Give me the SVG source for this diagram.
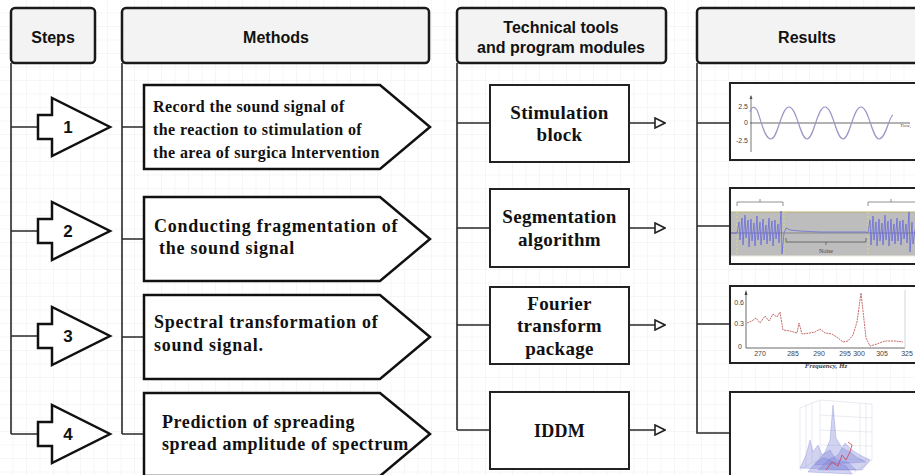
<svg xmlns="http://www.w3.org/2000/svg" width="915" height="475" viewBox="0 0 915 475">
<defs>
<pattern id="grid" width="13.5" height="13.5" patternUnits="userSpaceOnUse">
<path d="M13.5 0 V13.5 M0 13.5 H13.5" fill="none" stroke="#eeeeee" stroke-width="1"/>
</pattern>
<marker id="open" viewBox="0 0 12 12" refX="11" refY="6" markerWidth="12" markerHeight="12" markerUnits="userSpaceOnUse" orient="auto">
<path d="M1 1 L11 6 L1 11 Z" fill="#fff" stroke="#222" stroke-width="1.6"/>
</marker>
<style>
.hdr{fill:#f3f3f3;stroke:#1a1a1a;stroke-width:2.5}
.htxt{font-family:"Liberation Sans",Arial,sans-serif;font-weight:bold;font-size:16px;fill:#111;text-anchor:middle}
.step{fill:#fff;stroke:#111;stroke-width:2.5;stroke-linejoin:miter}
.stxt{font-family:"Liberation Sans",Arial,sans-serif;font-weight:bold;font-size:17px;fill:#111;text-anchor:middle}
.meth{fill:#fff;stroke:#111;stroke-width:2.5}
.mtxt{font-family:"Liberation Serif","Times New Roman",serif;font-weight:bold;font-size:18px;fill:#111;letter-spacing:0.75px}
.box{fill:#fff;stroke:#222;stroke-width:2}
.btxt{font-family:"Liberation Serif","Times New Roman",serif;font-weight:bold;font-size:19px;fill:#111;text-anchor:middle;letter-spacing:0.3px}
.chart{fill:#fff;stroke:#222;stroke-width:2}
.conn{fill:none;stroke:#2a2a2a;stroke-width:1.6}
.ax{font-family:"Liberation Sans",Arial,sans-serif;font-size:7px;fill:#444}
</style>
</defs>
<rect width="915" height="475" fill="#fff"/>
<rect width="915" height="475" fill="url(#grid)"/>

<g id="connectors">
<path class="conn" d="M11 63 V434 M11 127 H38 M11 231 H38 M11 336 H38 M11 434 H38"/>
<path class="conn" d="M122 63 V434 M122 127 H144 M122 239 H144 M122 337 H144 M122 434 H144"/>
<path class="conn" d="M457 63 V430 M457 123 H490 M457 228 H490 M457 325 H490 M457 430 H490"/>
<path class="conn" d="M629 123 H665" marker-end="url(#open)"/>
<path class="conn" d="M629 228 H665" marker-end="url(#open)"/>
<path class="conn" d="M629 325 H665" marker-end="url(#open)"/>
<path class="conn" d="M629 430 H665" marker-end="url(#open)"/>
<path class="conn" d="M697 63 V433 H730 M697 123 H730 M697 226 H730 M697 324 H730"/>
</g>

<g id="header-steps"><rect class="hdr" x="11" y="8" width="84" height="55" rx="4"/><text class="htxt" x="53" y="43">Steps</text></g>
<g id="header-methods"><rect class="hdr" x="122" y="8" width="307" height="55" rx="4"/><text class="htxt" x="276" y="43">Methods</text></g>
<g id="header-tools"><rect class="hdr" x="457" y="8" width="209" height="55" rx="4"/><text class="htxt" x="561" y="33">Technical tools</text><text class="htxt" x="561" y="53">and program modules</text></g>
<g id="header-results"><rect class="hdr" x="697" y="8" width="230" height="55" rx="4"/><text class="htxt" x="807" y="43">Results</text></g>

<g id="step1"><path class="step" d="M38 115 H52 V98 L110 127 L52 156 V139 H38 Z"/><text class="stxt" x="68" y="133">1</text></g>
<g id="step2"><path class="step" d="M38 219 H52 V202 L110 231 L52 260 V243 H38 Z"/><text class="stxt" x="68" y="237">2</text></g>
<g id="step3"><path class="step" d="M38 324 H52 V307 L110 336 L52 365 V348 H38 Z"/><text class="stxt" x="68" y="342">3</text></g>
<g id="step4"><path class="step" d="M38 422 H52 V405 L110 434 L52 463 V446 H38 Z"/><text class="stxt" x="68" y="440">4</text></g>

<g id="method1"><path class="meth" d="M144 85 H380 L430 127 L380 169 H144 Z"/>
<text class="mtxt" style="font-size:16px;letter-spacing:0.4px" x="153" y="112">Record the sound signal of</text>
<text class="mtxt" style="font-size:16px;letter-spacing:0.4px" x="153" y="135">the reaction to stimulation of</text>
<text class="mtxt" style="font-size:16px;letter-spacing:0.4px" x="153" y="158">the area of surgica lntervention</text></g>
<g id="method2"><path class="meth" d="M144 197 H380 L430 239 L380 281 H144 Z"/>
<text class="mtxt" x="154" y="232">Conducting fragmentation of</text>
<text class="mtxt" x="159" y="254">the sound signal</text></g>
<g id="method3"><path class="meth" d="M144 295 H380 L430 337 L380 379 H144 Z"/>
<text class="mtxt" x="154" y="328">Spectral transformation of</text>
<text class="mtxt" x="154" y="351">sound signal.</text></g>
<g id="method4"><path class="meth" d="M144 393 H380 L430 434 L380 476 H144 Z"/>
<text class="mtxt" style="letter-spacing:0.6px" x="162" y="428">Prediction of spreading</text>
<text class="mtxt" style="letter-spacing:0.6px" x="162" y="450">spread amplitude of spectrum</text></g>

<g id="tool1"><rect class="box" x="490" y="85" width="139" height="77"/><text class="btxt" x="559.5" y="119">Stimulation</text><text class="btxt" x="559.5" y="141">block</text></g>
<g id="tool2"><rect class="box" x="490" y="189" width="139" height="78"/><text class="btxt" x="559.5" y="223">Segmentation</text><text class="btxt" x="559.5" y="246">algorithm</text></g>
<g id="tool3"><rect class="box" x="490" y="287" width="139" height="77"/><text class="btxt" x="559.5" y="310">Fourier</text><text class="btxt" x="559.5" y="332">transform</text><text class="btxt" x="559.5" y="355">package</text></g>
<g id="tool4"><rect class="box" x="490" y="392" width="139" height="77"/><text class="btxt" x="559.5" y="437" style="font-size:18px">IDDM</text></g>

<g id="result1">
<rect class="chart" x="730" y="83" width="200" height="77"/>
<path d="M750 123 H910" stroke="#9a9a9a" stroke-width="1.4"/>
<path d="M751 152 V96" stroke="#555" stroke-width="0.8"/>
<path d="M749.5 99 L751 95 L752.5 99 Z" fill="#555"/>
<path d="M750 112 C752 106,754 106,757 110 C760 116,764 139,771 139 C778 139,781 107,789 107 C797 107,800 139,807 139 C814 139,817 107,825 107 C833 107,836 139,843 139 C850 139,853 107,861 107 C869 107,872 139,879 139 C886 139,889 116,893 115" fill="none" stroke="#9a96c6" stroke-width="1.2"/>
<text class="ax" x="748" y="109" text-anchor="end">2.5</text>
<text class="ax" x="748" y="125" text-anchor="end">0</text>
<text class="ax" x="748" y="143" text-anchor="end">-2.5</text>
<text x="900" y="127" font-family="Liberation Serif,serif" font-style="italic" font-size="5px" fill="#555">Time,</text>
</g>

<g id="result2">
<rect class="chart" x="730" y="188" width="200" height="76"/>
<rect x="731" y="212" width="184" height="44" fill="#bdbdbd"/>
<path d="M731 212 H915" stroke="#b9b06a" stroke-width="1.2"/>
<path d="M731 256 H915" stroke="#e8e8d8" stroke-width="1"/>
<path d="M737 206 V202 H783 V206 M760 202 V199" fill="none" stroke="#777" stroke-width="0.8"/>
<path d="M868 206 V202 H915 M891 202 V199" fill="none" stroke="#777" stroke-width="0.8"/>
<path d="M786 238 V242 H866 V238 M826 242 V245" fill="none" stroke="#555" stroke-width="0.8"/>
<text x="826" y="253" font-family="Liberation Serif,serif" font-size="6px" fill="#444" text-anchor="middle">Noise</text>
<path d="M737 212 V256 M784 212 V256 M868 212 V256" stroke="#e5e070" stroke-width="0.8" stroke-dasharray="2 2"/>
<path d="M731 233 H915" stroke="#666" stroke-width="0.6"/>
<polyline fill="none" stroke="#5a5fe0" stroke-width="0.8" stroke-opacity="0.85" points="731,233 737,233 739,222 740,240 742,218 743,245 745,215 746,238 748,220 749,247 751,219 752,241 754,223 755,246 757,216 758,240 760,222 761,245 763,219 764,240 766,225 767,244 769,218 770,241 772,221 773,246 775,220 776,239 778,224 779,243 781,211 782,254 784,233 786,228 790,230 800,231 820,232 866,232 868,233 870,220 871,245 873,216 874,240 876,222 877,246 879,219 880,241 882,223 883,245 885,215 886,240 888,221 889,246 891,219 892,241 894,224 895,244 897,218 898,241 900,221 901,245 903,220 904,239 906,224 907,243 909,212 910,252 912,222 913,244 915,230"/>
</g>

<g id="result3">
<rect class="chart" x="730" y="286" width="200" height="77"/>
<path d="M746 348 V292 M746 348 H905" stroke="#444" stroke-width="0.8" fill="none"/>
<path d="M744.5 295 L746 290 L747.5 295 Z" fill="#444"/>
<path d="M905 290 V348" stroke="#c8ccd8" stroke-width="0.8"/>
<polyline fill="none" stroke="#c05a5a" stroke-width="0.9" stroke-dasharray="2 0.8" points="747,323 752,321 756,318 760,323 765,316 769,321 773,314 777,317 780,312 783,330 790,331 797,333 799,323 802,334 810,333 815,332 820,329 825,333 832,334 838,338 843,342 848,341 853,335 857,322 861,293 866,338 870,346 877,344 885,341 895,341 903,342"/>
<text class="ax" x="744" y="305" text-anchor="end">0.6</text>
<text class="ax" x="744" y="326" text-anchor="end">0.3</text>
<text class="ax" x="742" y="349" text-anchor="end">0</text>
<g class="ax" text-anchor="middle"><text x="760" y="356">270</text><text x="793" y="356">285</text><text x="819" y="356">290</text><text x="845" y="356">295</text><text x="859" y="356">300</text><text x="882" y="356">305</text><text x="907" y="356">325</text></g>
<text x="826" y="368" font-family="Liberation Serif,serif" font-style="italic" font-weight="bold" font-size="7px" fill="#444" text-anchor="middle">Frequency, Hz</text>
</g>

<g id="result4">
<rect class="chart" x="730" y="392" width="200" height="90"/>
<g stroke="#dadde6" stroke-width="0.6" fill="none">
<path d="M800 470 V408 L820 400 L872 404 V460 L852 474"/>
<path d="M820 400 V458 M800 470 L820 458 L872 460"/>
<path d="M806 404 V466 M812 402 V463 M860 403 V461 M866 403 V460 M820 415 L872 418 M820 430 L872 432 M820 445 L872 446"/>
</g>
<g fill="#7a80d8" fill-opacity="0.35" stroke="#6f76cf" stroke-width="0.5" stroke-opacity="0.6">
<path d="M800 468 L806 455 L810 440 L813 452 L818 445 L822 455 L830 450 L836 460 L848 462 L856 470 Z"/>
<path d="M815 465 L825 452 L830 440 L833 405 L836 438 L842 448 L850 452 L858 458 L866 462 Z"/>
<path d="M818 470 L828 460 L838 455 L845 443 L852 450 L860 455 L870 460 L862 470 Z"/>
<path d="M808 472 L816 462 L824 458 L834 462 L846 466 L852 474 Z"/>
</g>
<polyline fill="none" stroke="#d0404a" stroke-width="0.8" points="826,470 832,462 838,466 842,455 846,460 850,452 852,445 848,442"/>
</g>
</svg>
